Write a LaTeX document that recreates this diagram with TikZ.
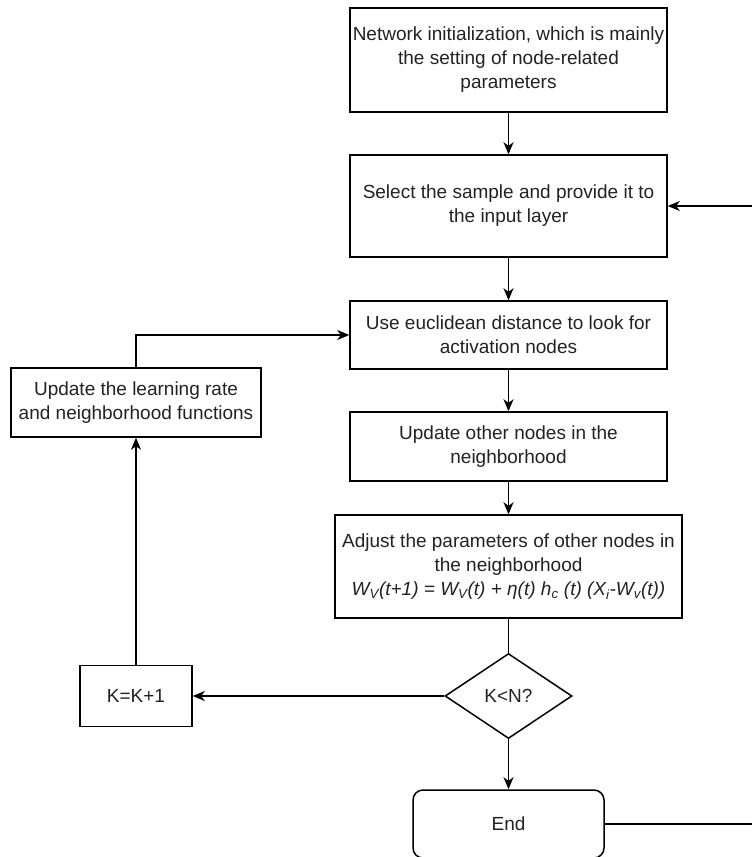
\documentclass[tikz,border=0pt]{standalone}
\usepackage{fontspec}
\setmainfont{Liberation Sans}
\usetikzlibrary{arrows.meta,shapes.geometric}
\definecolor{txt}{HTML}{222222}
\begin{document}
\begin{tikzpicture}[x=1pt,y=-1pt,
  every node/.style={font=\fontsize{19}{24}\selectfont, text=txt, align=center, inner sep=2pt},
  stepbox/.style={draw=black, line width=1.5pt, rectangle, minimum height=#1},
  stepbox/.default=60pt,
  decision/.style={draw=black, line width=1.5pt, diamond, aspect=1.5, minimum width=127pt, minimum height=85pt, inner sep=0pt},
  termbox/.style={draw=black, line width=1.5pt, rectangle, rounded corners=10pt},
  conn/.style={draw=black, line width=1.5pt},
  arr/.style={conn, -{Stealth[length=12pt,width=10pt,inset=3.5pt]}}
]
\useasboundingbox (0,0) rectangle (752,857);

\node[stepbox=104pt, minimum width=317pt] (init) at (508.5,60)
  {Network initialization, which is mainly\\the setting of node-related\\parameters};
\node[stepbox=102pt, minimum width=317pt] (select) at (508.5,206)
  {Select the sample and provide it to\\the input layer};
\node[stepbox=68pt, minimum width=317pt] (euclid) at (508.5,335)
  {Use euclidean distance to look for\\activation nodes};
\node[stepbox=69pt, minimum width=317pt] (update) at (508.5,446.5)
  {Update other nodes in the\\neighborhood};
\node[stepbox=103pt, minimum width=347pt] (adjust) at (508.5,566.5)
  {Adjust the parameters of other nodes in\\the neighborhood\\
  \itshape W\textsubscript{V}(t+1) = W\textsubscript{V}(t) + η(t) h\textsubscript{c} (t) (X\textsubscript{i}-W\textsubscript{v}(t))};
\node[decision] (check) at (508.5,696) {K<N?};
\node[termbox, minimum width=191pt, minimum height=68pt] (stop) at (508.5,824) {End};
\node[stepbox=61pt, minimum width=112pt] (inc) at (136,696) {K=K+1};
\node[stepbox=69pt, minimum width=250pt] (rate) at (136,402.5)
  {Update the learning rate\\and neighborhood functions};

\coordinate (rr) at (755,824);
\coordinate (rt) at (755,206);

\draw[arr] (init) -- (select);
\draw[arr] (select) -- (euclid);
\draw[arr] (euclid) -- (update);
\draw[arr] (update) -- (adjust);
\draw[conn] (adjust) -- (check);
\draw[arr] (check) -- (stop);
\draw[arr] (check.west) -- (inc.east);
\draw[arr] (inc) -- (rate);
\draw[arr] (rate.north) |- (euclid.west);
\draw[arr] (stop.east) -- (rr) -- (rt) -- (select.east);
\end{tikzpicture}
\end{document}
